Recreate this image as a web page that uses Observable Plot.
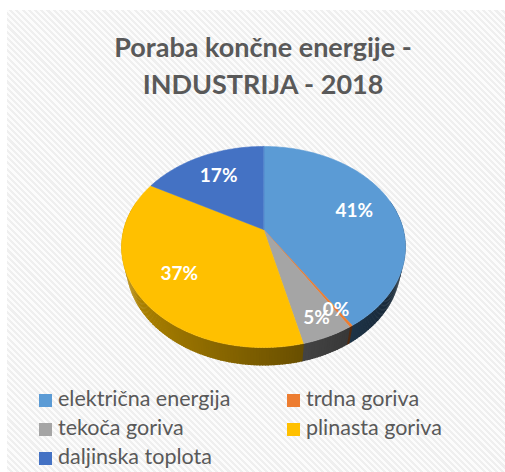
<!DOCTYPE html>
<html><head><meta charset="utf-8">
<script src="https://cdn.jsdelivr.net/npm/d3@7"></script>
<script src="https://cdn.jsdelivr.net/npm/@observablehq/plot@0.6"></script>
<style>
html,body{margin:0;padding:0;background:#fff;}
#wrap{position:relative;width:505px;height:472px;overflow:hidden;}
#bg{position:absolute;left:7px;top:10px;right:0;bottom:0;
 background:repeating-linear-gradient(45deg,#fcfcfc 0px,#fcfcfc 2.2px,#efefef 2.2px,#efefef 4.4px);}
#chart{position:absolute;left:0;top:0;}
#title{position:absolute;left:0;width:526px;top:28px;text-align:center;font-family:Lato;font-weight:bold;font-size:27px;line-height:37px;color:#595959;}
#legend{position:absolute;left:0;top:0;width:505px;height:472px;font-family:Lato;font-size:21.5px;color:#595959;}
.sw{position:absolute;width:13px;height:13px;}
.lt{position:absolute;line-height:29px;white-space:nowrap;}
</style></head>
<body><div id="wrap"><div id="bg"></div><div id="chart"></div><div id="title"></div><div id="legend"></div></div>
<script>
const titleLines = ["Poraba končne energije -", "INDUSTRIJA - 2018"];
const categories = ["električna energija","trdna goriva","tekoča goriva","plinasta goriva","daljinska toplota"];
const shares = [40.9, 0.3, 5.0, 36.9, 16.9];
const labels = ["41%","0%","5%","37%","17%"];
const colors = ["#5B9BD5","#ED7D31","#A5A5A5","#FFC000","#4472C4"];

// 3D projection layout
const W = 505, H = 472;
const CX = 263, CY = 229, F = 575.8, D = 4.118;
const ALPHA = 44.2 * Math.PI / 180, S = Math.sin(ALPHA), C = Math.cos(ALPHA);
const THICK = 0.192;
function proj(theta, r, yw) {
  const x = r * Math.sin(theta), z = r * Math.cos(theta);
  const up = z * S + yw * C;
  const depth = D + z * C - yw * S;
  return {x: CX + F * x / depth, y: CY - F * up / depth, depth};
}

const total = d3.sum(shares);
let acc = 0;
const slices = shares.map((v, i) => {
  const a0 = acc / total * 2 * Math.PI; acc += v;
  const a1 = acc / total * 2 * Math.PI;
  return {i, a0, a1, color: colors[i], label: labels[i], share: v};
});

const STEP = Math.PI / 180;
function angles(a0, a1) {
  const n = Math.max(2, Math.ceil((a1 - a0) / STEP));
  return d3.range(n + 1).map(k => a0 + (a1 - a0) * k / n);
}

// side quads (slightly overlapping to avoid seams)
const EPS = 0.004;
const quads = [];
slices.forEach(s => {
  const as = angles(s.a0, s.a1);
  for (let k = 0; k < as.length - 1; k++) {
    const ta = as[k] - EPS, tb = as[k + 1] + EPS, tm = (as[k] + as[k + 1]) / 2;
    if (Math.cos(tm) > 0.3) continue;
    const f = 0.47 - 0.25 * Math.sin(tm);
    const col = d3.interpolateRgb("#000", s.color)(Math.max(0.15, Math.min(0.9, f)));
    const dep = proj(tm, 1, -THICK / 2).depth;
    quads.push({key: `q${s.i}_${k}`, col, dep, pts: [proj(ta,1,0), proj(tb,1,0), proj(tb,1,-THICK), proj(ta,1,-THICK)]});
  }
});
quads.sort((a, b) => b.dep - a.dep);
const sideRows = quads.flatMap(q => q.pts.map(p => ({key: q.key, col: q.col, x: p.x, y: p.y})));

// top faces
const topRows = slices.flatMap(s => {
  const c = proj(0, 0, 0);
  const rim = angles(s.a0, s.a1).map(t => proj(t, 1, 0));
  return [c, ...rim].map(p => ({key: `t${s.i}`, col: s.color, x: p.x, y: p.y}));
});

// shadow (bottom outline, offset)
const shadowRows = angles(0, 2 * Math.PI).map(t => {
  const p = proj(t, 1.0, -THICK);
  return {key: "sh", x: p.x + 2, y: p.y + 4};
});

// labels
const labelRows = slices.map(s => {
  const r = s.share < 10 ? 0.85 : 0.7;
  const p = proj((s.a0 + s.a1) / 2, r, 0);
  return {x: p.x, y: p.y, text: s.label};
});

const plot = Plot.plot({
  width: W, height: H, margin: 0,
  x: {domain: [0, W], range: [0, W], axis: null},
  y: {domain: [0, H], range: [0, H], axis: null},
  color: {type: "identity"},
  style: {background: "transparent", overflow: "visible"},
  marks: [
    Plot.line(shadowRows, {x: "x", y: "y", z: "key", fill: "rgba(0,0,0,0.3)", stroke: "none", ariaLabel: "shadow", curve: "linear-closed"}),
    Plot.line(sideRows, {x: "x", y: "y", z: "key", fill: "col", stroke: "none", curve: "linear-closed"}),
    Plot.line(topRows, {x: "x", y: "y", z: "key", fill: "col", stroke: "col", strokeWidth: 0.6, curve: "linear-closed"}),
    Plot.text(labelRows, {x: "x", y: "y", text: "text", fill: "white", fontSize: 19, fontWeight: "bold", fontFamily: "Lato"})
  ]
});
document.getElementById("chart").appendChild(plot);
d3.select(plot).select('g[aria-label="shadow"]').style("filter", "blur(4px)");

// title
document.getElementById("title").innerHTML = titleLines.map(t => `<div>${t}</div>`).join("");

// legend
const legend = document.getElementById("legend");
const colX = [39, 287], rowTop = 394, rowGap = 29;
categories.forEach((c, i) => {
  const col = i % 2, row = Math.floor(i / 2);
  const sw = document.createElement("div");
  sw.className = "sw"; sw.style.left = colX[col] + "px"; sw.style.top = (rowTop + row * rowGap) + "px";
  sw.style.background = colors[i];
  const t = document.createElement("div");
  t.className = "lt"; t.style.left = (colX[col] + 19) + "px"; t.style.top = (rowTop - 10 + row * rowGap) + "px";
  t.textContent = c;
  legend.appendChild(sw); legend.appendChild(t);
});
</script></body></html>
